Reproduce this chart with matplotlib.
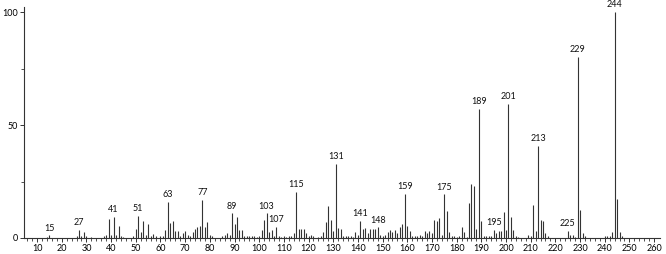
import matplotlib
matplotlib.use("Agg")
import matplotlib.pyplot as plt
import numpy as np

plt.rcParams['font.family'] = ['Lato', 'DejaVu Sans']

# m/z values and relative intensities
mz = [14, 15, 26, 27, 28, 29, 30, 32, 37, 38, 39, 40, 41, 42, 43, 44, 45, 49, 50, 51,
      52, 53, 54, 55, 56, 57, 58, 60, 61, 62, 63, 64, 65, 66, 67, 68, 69, 70, 71, 72,
      73, 74, 75, 76, 77, 78, 79, 80, 81, 85, 86, 87, 88, 89, 90, 91, 92, 93, 94, 95,
      96, 97, 98, 99, 100, 101, 102, 103, 104, 105, 106, 107, 108, 109, 110, 111, 112,
      113, 114, 115, 116, 117, 118, 119, 120, 121, 122, 124, 125, 126, 127, 128, 129,
      130, 131, 132, 133, 134, 135, 136, 137, 138, 139, 140, 141, 142, 143, 144, 145,
      146, 147, 148, 149, 150, 151, 152, 153, 154, 155, 156, 157, 158, 159, 160, 161,
      162, 163, 164, 165, 166, 167, 168, 169, 170, 171, 172, 173, 174, 175, 176, 177,
      178, 179, 180, 181, 182, 183, 184, 185, 186, 187, 188, 189, 190, 191, 192, 193,
      194, 195, 196, 197, 198, 199, 200, 201, 202, 203, 204, 205, 209, 210, 211, 212,
      213, 214, 215, 216, 217, 225, 226, 227, 228, 229, 230, 231, 232, 240, 241, 242,
      243, 244, 245, 246, 247]
intensity = [0.5, 1.2, 1.0, 3.5, 0.8, 2.8, 0.8, 0.3, 0.8, 1.5, 8.4, 1.5, 9.3, 1.5, 5.3, 0.8, 0.5, 0.8, 4.1, 9.7,
             2.8, 7.7, 1.2, 6.2, 1.0, 1.8, 0.8, 0.8, 1.0, 3.7, 16.0, 6.5, 7.7, 3.0, 3.0, 1.0, 2.0, 3.0, 1.5, 1.0,
             2.5, 4.0, 4.7, 5.3, 16.8, 4.7, 7.2, 1.5, 1.0, 1.0, 1.5, 2.0, 1.5, 10.9, 6.0, 9.1, 3.5, 3.5, 1.0, 1.0,
             0.8, 1.0, 0.8, 0.5, 0.8, 3.5, 8.0, 10.9, 2.8, 3.5, 1.0, 5.0, 1.0, 0.5, 0.8, 0.5, 0.8,
             1.0, 2.0, 20.5, 4.0, 4.0, 4.0, 2.0, 1.0, 1.5, 0.8, 0.5, 1.0, 2.5, 7.2, 14.2, 8.0,
             3.0, 32.7, 4.3, 4.0, 1.0, 1.0, 0.8, 1.0, 0.5, 2.8, 1.5, 7.7, 3.8, 4.3, 2.0, 4.0,
             4.0, 4.0, 4.7, 1.5, 1.0, 1.5, 2.5, 3.5, 2.5, 3.5, 2.0, 5.0, 6.0, 19.5, 5.5, 3.0,
             1.0, 1.0, 1.0, 1.5, 1.0, 3.0, 2.0, 3.0, 2.0, 8.0, 7.5, 8.7, 1.5, 19.3, 12.0, 2.5,
             1.0, 1.0, 0.5, 1.0, 5.0, 2.5, 0.5, 15.3, 23.9, 23.0, 3.8, 57.0, 7.5, 1.0, 1.0, 0.8,
             1.0, 3.5, 2.0, 3.0, 3.0, 11.4, 3.5, 59.5, 9.2, 3.5, 1.0, 0.5, 1.5, 1.0, 14.6, 3.2,
             40.8, 8.0, 7.5, 2.0, 1.0, 3.1, 1.5, 1.5, 0.5, 80.0, 12.4, 2.0, 1.0, 0.8, 1.0, 1.0,
             2.5, 100.0, 17.1, 2.5, 1.0]
labeled = [15, 27, 41, 51, 63, 77, 89, 103, 107, 115, 131, 141, 148, 159, 175, 189,
           195, 201, 213, 225, 229, 244]

fig = plt.figure(figsize=(6.66, 2.54), dpi=100)
ax = fig.add_axes([0.036, 0.063, 0.955, 0.909])

ax.vlines(mz, 0, intensity, color='#333333', linewidth=0.8)

lookup = dict(zip(mz, intensity))
for m in labeled:
    ax.annotate(str(m), (m, lookup[m]), xytext=(0, 2), textcoords='offset points',
                ha='center', va='bottom', fontsize=6.5, color='#111111')

ax.set_xlim(4.7, 262.4)
ax.set_ylim(0, 102.2)
ax.set_xticks(np.arange(10, 261, 10))
ax.set_xticks(np.arange(6, 262, 2), minor=True)
ax.set_yticks([0, 50, 100])
ax.set_yticks([25, 75], minor=True)

for s in ['top', 'right']:
    ax.spines[s].set_visible(False)
for s in ['left', 'bottom']:
    ax.spines[s].set_color('#333333')
    ax.spines[s].set_linewidth(0.8)

ax.tick_params(axis='both', which='major', length=3, width=0.7, labelsize=6.5, pad=1.5, color='#333333')
ax.tick_params(axis='both', which='minor', length=2, width=0.6, color='#333333')

fig.savefig('out.png', dpi=100)
